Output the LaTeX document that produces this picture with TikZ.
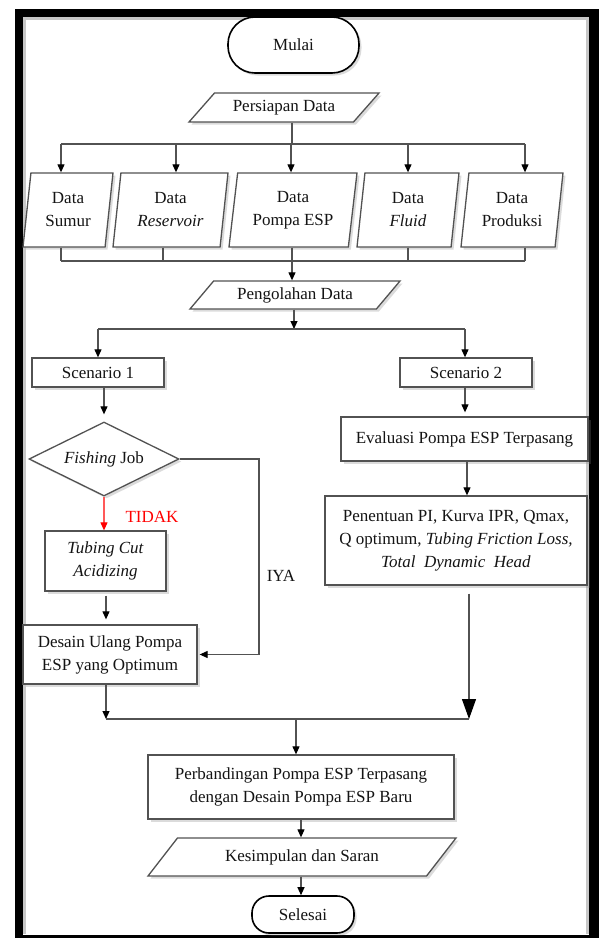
\documentclass[tikz,border=0pt]{standalone}
\usepackage{fontspec}
\setmainfont{Liberation Serif}
\usetikzlibrary{shapes.geometric,arrows.meta,shadows}
\begin{document}
\begin{tikzpicture}[x=1pt,y=-1pt,
  every node/.style={font=\fontsize{17}{23}\selectfont, text=black!92},
  ln/.style={draw=black!68, line width=1.1pt},
  arr/.style={ln, -{Triangle[width=7pt,length=8pt,color=black]}},
  shd/.style={drop shadow={opacity=0.28, shadow xshift=2.5pt, shadow yshift=-2.5pt}},
  boxs/.style={rectangle, draw=black!68, line width=1.3pt, fill=white, shd, align=center, inner sep=1pt},
  term/.style={rectangle, draw=black, line width=1.6pt, fill=white, shd, inner sep=1pt},
  para/.style={trapezium, trapezium stretches body, draw=black!68, line width=1.3pt, fill=white, shd, align=center, inner sep=1.5pt},
  dia/.style={diamond, draw=black!68, line width=1.3pt, fill=white, shd, inner sep=2pt, aspect=2}
]
\useasboundingbox (0,0) rectangle (603,938);
% frame
\fill[black] (15,9) rectangle (599,938);
\fill[white] (23,17) rectangle (589,935);
\draw[black!22, line width=3pt] (24.5,934) -- (24.5,18.5) -- (587.5,18.5) -- (587.5,934);

% nodes
\node[term, minimum width=131pt, minimum height=56pt, rounded corners=27pt] (mulai) at (293.5,45) {Mulai};
\node[para, trapezium left angle=35, trapezium right angle=145, minimum width=190pt, minimum height=29pt] (pers) at (284,107.5) {Persiapan Data};

\node[para, trapezium left angle=78, trapezium right angle=102, minimum width=90pt, minimum height=74pt] (ds) at (68,210) {Data\\Sumur};
\node[para, trapezium left angle=78, trapezium right angle=102, minimum width=115pt, minimum height=74pt] (dr) at (170.5,210) {Data\\\textit{Reservoir}};
\node[para, trapezium left angle=78, trapezium right angle=102, minimum width=128pt, minimum height=74pt] (dp) at (293,210) {Data\\Pompa ESP};
\node[para, trapezium left angle=78, trapezium right angle=102, minimum width=102pt, minimum height=74pt] (df) at (408,210) {Data\\\textit{Fluid}};
\node[para, trapezium left angle=78, trapezium right angle=102, minimum width=102pt, minimum height=74pt] (dpr) at (512,210) {Data\\Produksi};

\node[para, trapezium left angle=38, trapezium right angle=142, minimum width=210pt, minimum height=28pt] (peng) at (295,295) {Pengolahan Data};

\node[boxs, minimum width=132pt, minimum height=29pt] (sc1) at (98,372.5) {Scenario 1};
\node[boxs, minimum width=132pt, minimum height=29pt] (sc2) at (466,372.5) {Scenario 2};
\node[boxs, minimum width=247pt, minimum height=44pt] (eval) at (464.5,439) {Evaluasi Pompa ESP Terpasang};
\node[boxs, minimum width=262pt, minimum height=89pt] (pen) at (456,540.5) {Penentuan PI, Kurva IPR, Qmax,\\Q optimum, \textit{Tubing Friction Loss,}\\\textit{Total\ \ Dynamic\ \ Head}};

\node[dia, minimum width=150pt, minimum height=74pt] (fish) at (104,459) {\textit{Fishing} Job};
\node[boxs, minimum width=121pt, minimum height=60pt] (tub) at (105.5,561) {\textit{Tubing Cut}\\\textit{Acidizing}};
\node[boxs, minimum width=174pt, minimum height=59pt] (des) at (110,654.5) {Desain Ulang Pompa\\ESP yang Optimum};

\node[boxs, minimum width=306pt, minimum height=64pt] (per) at (301,787) {Perbandingan Pompa ESP Terpasang\\dengan Desain Pompa ESP Baru};
\node[para, trapezium left angle=32, trapezium right angle=148, minimum width=308pt, minimum height=38pt] (kes) at (302,857) {Kesimpulan dan Saran};
\node[term, minimum width=102pt, minimum height=37pt, rounded corners=17pt] (sel) at (303,914.5) {Selesai};

\node[text=red] (tidak) at (152,517) {TIDAK};
\node (iya) at (281,576) {IYA};

% connectors: data preparation
\coordinate (b0) at (292,144);
\draw[ln] (292,0 |- pers.south) -- (b0);
\draw[ln] (61,144) -- (525,144);
\foreach \x/\n in {61/ds,176/dr,291/dp,408/df,525/dpr}
  \draw[arr] (\x,144) -- (\x,0 |- \n.north);
\draw[ln] (61,261) -- (525,261);
\foreach \x/\n in {61/ds,163/dr,292/dp,408/df,525/dpr}
  \draw[ln] (\x,0 |- \n.south) -- (\x,261);
\draw[arr] (292,261) -- (292,0 |- peng.north);

% processing to scenarios
\draw[arr] (294,0 |- peng.south) -- (294,329);
\draw[ln] (98,329) -- (465,329);
\draw[arr] (98,329) -- (sc1.north);
\draw[arr] (465,329) -- (465,0 |- sc2.north);

% scenario 1
\draw[arr, shorten >=7pt] (104,0 |- sc1.south) -- (fish.north);
\coordinate (iyac) at (259,654.5);
\draw[arr, shorten >=2pt] (fish.east) -| (iyac) -- (des.east);
\draw[draw=red!65, line width=1.1pt, -{Triangle[width=7pt,length=8pt,color=red]}] (fish.south) -- (104,0 |- tub.north);
\draw[arr, shorten <=4pt, shorten >=5pt] (106,0 |- tub.south) -- (106,0 |- des.north);

% scenario 2
\draw[arr, shorten >=4pt] (465,0 |- sc2.south) -- (465,0 |- eval.north);
\draw[arr] (467,0 |- eval.south) -- (467,0 |- pen.north);

% merge
\coordinate (bl) at (106,719);
\coordinate (br) at (469,719);
\draw[arr] (106,0 |- des.south) -- (bl);
\draw[ln, -{Triangle[width=14pt,length=20pt,color=black]}, shorten <=8pt] (469,0 |- pen.south) -- (br);
\draw[ln] (bl) -- (br);
\draw[arr] (296,719) -- (296,0 |- per.north);
\draw[arr] (301,0 |- per.south) -- (301,0 |- kes.north);
\draw[arr] (301,0 |- kes.south) -- (301,0 |- sel.north);
\end{tikzpicture}
\end{document}
